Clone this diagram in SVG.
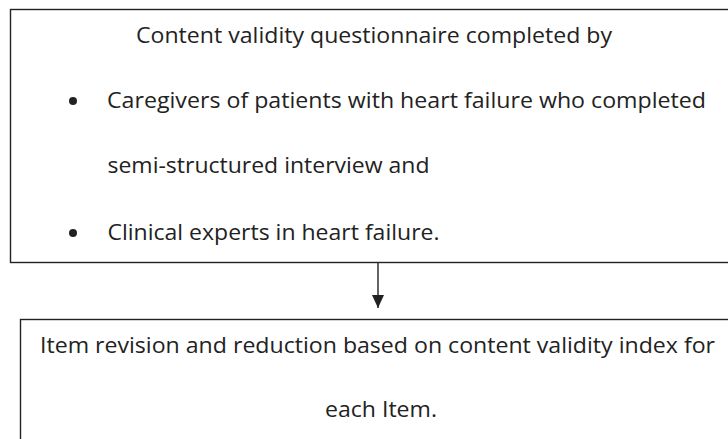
<svg xmlns="http://www.w3.org/2000/svg" width="728" height="439" viewBox="0 0 728 439">
<style>
.box{fill:#fff;stroke:#222;stroke-width:1.4}
.t{font-family:"Open Sans",Lato,"Liberation Sans",sans-serif;font-size:21px;fill:#222}
.conn{stroke:#222;stroke-width:1.4;fill:none}
</style>
<defs>
<marker id="ah" markerWidth="13" markerHeight="12" refX="13" refY="6" orient="auto" markerUnits="userSpaceOnUse" viewBox="0 0 13 12">
<path d="M0,0 L13,6 L0,12 Z" fill="#222"/>
</marker>
</defs>
<rect width="728" height="439" fill="#fff"/>
<g id="node-questionnaire">
<rect class="box" x="10.5" y="9.5" width="740" height="253"/>
<text class="t" x="136" y="43" textLength="476" lengthAdjust="spacingAndGlyphs">Content validity questionnaire completed by</text>
<circle cx="73" cy="101" r="4" fill="#222"/>
<text class="t" x="107" y="108" textLength="599" lengthAdjust="spacingAndGlyphs">Caregivers of patients with heart failure who completed</text>
<text class="t" x="107.5" y="173" textLength="322" lengthAdjust="spacingAndGlyphs">semi-structured interview and</text>
<circle cx="73" cy="233" r="4" fill="#222"/>
<text class="t" x="107.5" y="240" textLength="332" lengthAdjust="spacingAndGlyphs">Clinical experts in heart failure.</text>
</g>
<g id="node-revision">
<rect class="box" x="20.5" y="319.5" width="740" height="140"/>
<text class="t" x="40" y="353" textLength="675" lengthAdjust="spacingAndGlyphs">Item revision and reduction based on content validity index for</text>
<text class="t" x="325" y="417" textLength="112" lengthAdjust="spacingAndGlyphs">each Item.</text>
</g>
<g id="connectors">
<line class="conn" x1="378" y1="263" x2="378" y2="308" marker-end="url(#ah)"/>
</g>
</svg>
